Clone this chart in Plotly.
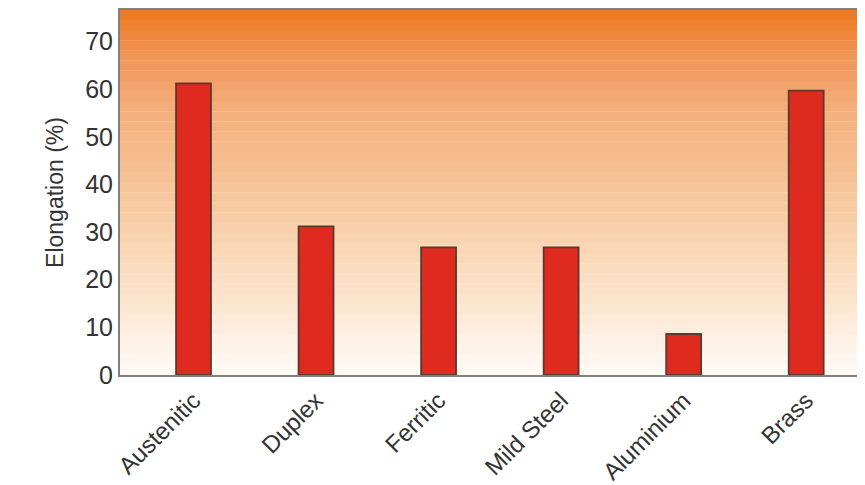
import plotly.graph_objects as go

categories = ["Austenitic", "Duplex", "Ferritic", "Mild Steel", "Aluminium", "Brass"]
elongation = [61.2, 31.2, 26.8, 26.8, 8.6, 59.7]
y_ticks = [0, 10, 20, 30, 40, 50, 60, 70]

Y_MAX = 76.6

fig = go.Figure()
fig.add_trace(go.Bar(
    x=list(range(len(categories))),
    y=elongation,
    width=0.285,
    marker=dict(color="#DE2A1F", line=dict(color="#5A3A30", width=1.8)),
    hoverinfo="skip",
))

# stepped orange-to-white background gradient
stops = [(0.0, (255, 251, 247)), (0.13, (253, 236, 221)), (0.33, (249, 216, 183)),
         (0.52, (246, 196, 152)), (0.72, (244, 176, 124)), (0.86, (241, 152, 92)),
         (1.0, (237, 120, 30))]

def col(t):
    for (t0, c0), (t1, c1) in zip(stops[:-1], stops[1:]):
        if t0 <= t <= t1:
            f = (t - t0) / (t1 - t0)
            return "rgb(%d,%d,%d)" % tuple(round(a + (b - a) * f) for a, b in zip(c0, c1))
    return "rgb(%d,%d,%d)" % stops[-1][1]

n = 36
shapes = []
for i in range(n):
    y0 = Y_MAX * i / n
    y1 = Y_MAX * (i + 1) / n
    shapes.append(dict(type="rect", xref="paper", yref="y", x0=0, x1=1, y0=y0, y1=y1 + 0.05,
                       fillcolor=col((i + 0.5) / n), line=dict(width=0), layer="below"))

fig.update_layout(
    width=857, height=477,
    margin=dict(l=112, r=0, t=2, b=110),
    paper_bgcolor="white", plot_bgcolor="white",
    shapes=shapes,
    showlegend=False,
    font=dict(family="Liberation Sans, Arial, sans-serif", color="#333333"),
    xaxis=dict(
        tickmode="array", tickvals=list(range(len(categories))), ticktext=categories,
        range=[-0.6, 5.48], tickangle=-45, tickfont=dict(size=24, color="#333333"),
        showgrid=False, zeroline=False, showline=True, linecolor="#808080", linewidth=2,
        mirror=True, ticks="", automargin=False,
    ),
    yaxis=dict(
        range=[0, Y_MAX], tickmode="array", tickvals=y_ticks,
        ticktext=[str(v) for v in y_ticks],
        tickfont=dict(size=25, color="#333333"), showgrid=False, zeroline=False,
        showline=True, linecolor="#808080", linewidth=2, mirror=True, ticks="",
        automargin=False,
        title=dict(text="Elongation (%)", font=dict(size=23, color="#333333")),
    ),
)

fig.write_html("out.html")
